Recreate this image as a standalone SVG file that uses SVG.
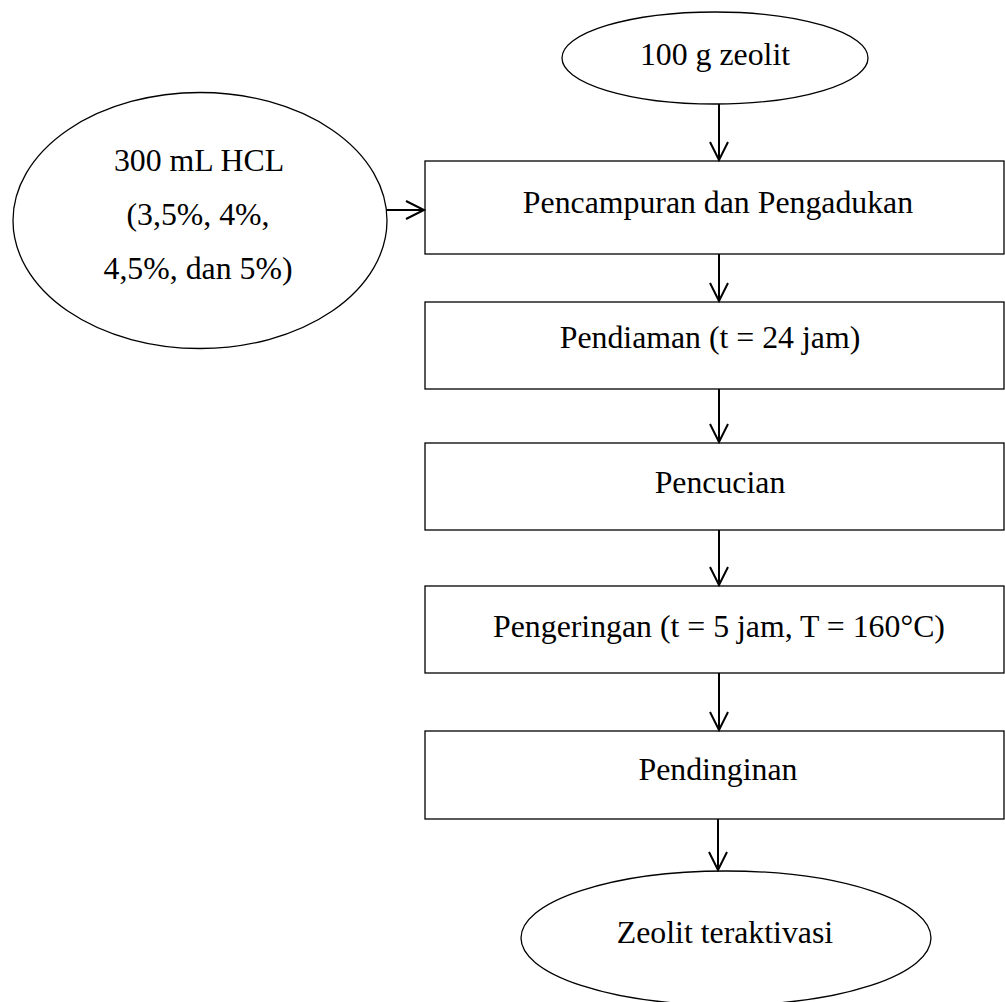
<svg xmlns="http://www.w3.org/2000/svg" width="1005" height="1002" viewBox="0 0 1005 1002">
<style>
.shape{fill:#fff;stroke:#000;stroke-width:1.3}
.lbl{font-family:"Liberation Serif","Times New Roman",serif;font-size:31.8px;fill:#000;text-anchor:middle}
.conn line{stroke:#000;stroke-width:2}
.conn polyline{fill:none;stroke:#000;stroke-width:2}
</style>
<rect width="1005" height="1002" fill="#fff"/>
<g id="n-zeolit">
<ellipse class="shape" cx="715" cy="58" rx="153" ry="46"/>
<text class="lbl" x="715" y="65">100 g zeolit</text>
</g>
<g id="n-hcl">
<ellipse class="shape" cx="200" cy="220.5" rx="187" ry="128"/>
<text class="lbl" x="199" y="171">300 mL HCL</text>
<text class="lbl" x="198" y="225">(3,5%, 4%,</text>
<text class="lbl" x="198" y="279">4,5%, dan 5%)</text>
</g>
<g id="n-pencampuran">
<rect class="shape" x="425" y="161" width="579" height="93"/>
<text class="lbl" x="718" y="213">Pencampuran dan Pengadukan</text>
</g>
<g id="n-pendiaman">
<rect class="shape" x="425" y="302" width="579" height="87"/>
<text class="lbl" x="710" y="348">Pendiaman (t = 24 jam)</text>
</g>
<g id="n-pencucian">
<rect class="shape" x="425" y="443" width="579" height="87"/>
<text class="lbl" x="720" y="493">Pencucian</text>
</g>
<g id="n-pengeringan">
<rect class="shape" x="425" y="586" width="579" height="87"/>
<text class="lbl" x="719" y="637">Pengeringan (t = 5 jam, T = 160°C)</text>
</g>
<g id="n-pendinginan">
<rect class="shape" x="425" y="731" width="579" height="88"/>
<text class="lbl" x="718" y="780">Pendinginan</text>
</g>
<g id="n-hasil">
<ellipse class="shape" cx="726" cy="938" rx="205" ry="67"/>
<text class="lbl" x="725" y="943">Zeolit teraktivasi</text>
</g>
<g class="conn" id="connectors">
<line x1="719" y1="104" x2="719" y2="160"/><polyline points="710,142 719,160 728,142"/>
<line x1="386" y1="210" x2="424" y2="210"/><polyline points="406,201 424,210 406,219"/>
<line x1="719" y1="254" x2="719" y2="301"/><polyline points="710,283 719,301 728,283"/>
<line x1="719" y1="389" x2="719" y2="442"/><polyline points="710,424 719,442 728,424"/>
<line x1="719" y1="530" x2="719" y2="585"/><polyline points="710,567 719,585 728,567"/>
<line x1="719" y1="673" x2="719" y2="730"/><polyline points="710,712 719,730 728,712"/>
<line x1="718" y1="819" x2="718" y2="870"/><polyline points="709,852 718,870 727,852"/>
</g>
</svg>
